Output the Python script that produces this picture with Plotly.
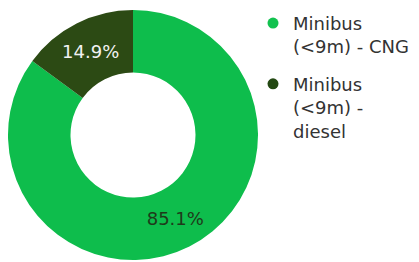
import plotly.graph_objects as go

labels = ["Minibus<br>(<9m) - CNG", "Minibus<br>(<9m) -<br>diesel"]
values = [85.1, 14.9]
slice_colors = ["#0ebd4c", "#2c4a14"]
legend_colors = ["#12c24f", "#234812"]
text_colors = ["#1f3a1a", "#f2f2f2"]

fig = go.Figure()
fig.add_trace(go.Pie(
    labels=labels, values=values, hole=0.5, sort=False, direction="clockwise",
    rotation=0, marker=dict(colors=slice_colors, line=dict(width=0)),
    texttemplate="%{percent:.1%}", textposition="inside",
    insidetextorientation="horizontal",
    textfont=dict(family="Verdana, DejaVu Sans", size=18, color=text_colors),
    showlegend=False, hoverinfo="label+percent",
    domain=dict(x=[0, 250/419], y=[10/262, 260/262]),
))
for i, (lab, col) in enumerate(zip(labels, legend_colors)):
    fig.add_trace(go.Scatter(x=[None], y=[None], mode="markers", name=lab,
                             legendgroup=f"g{i}",
                             marker=dict(symbol="circle", size=11, color=col),
                             showlegend=True))

fig.update_layout(
    width=419, height=262, margin=dict(l=0, r=0, t=0, b=0, autoexpand=False),
    paper_bgcolor="white", plot_bgcolor="white",
    xaxis=dict(visible=False), yaxis=dict(visible=False),
    font=dict(family="Verdana, DejaVu Sans", size=18, color="#333333"),
    legend=dict(x=245/419, y=1.012, xanchor="left", yanchor="top",
                valign="top", tracegroupgap=11, bgcolor="rgba(0,0,0,0)",
                maxheight=1,
                font=dict(family="Verdana, DejaVu Sans", size=18, color="#333333")),
)
fig.write_html("out.html")
